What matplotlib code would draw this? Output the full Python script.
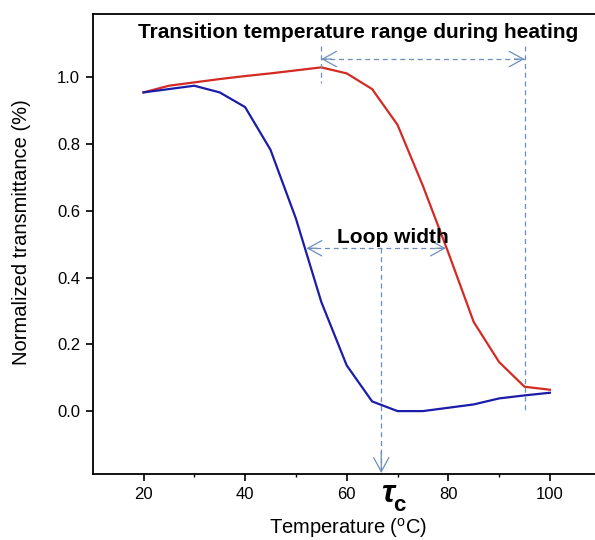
import matplotlib
matplotlib.use('Agg')
import matplotlib.pyplot as plt
from matplotlib.patches import FancyArrowPatch

plt.rcParams['font.family'] = ['Liberation Sans', 'DejaVu Sans']
plt.rcParams['mathtext.fontset'] = 'custom'
plt.rcParams['mathtext.rm'] = 'Liberation Sans'

temp = [20, 25, 30, 35, 40, 45, 50, 55, 60, 65, 70, 75, 80, 85, 90, 95, 100]
heating = [0.955, 0.975, 0.985, 0.995, 1.004, 1.012, 1.021, 1.030, 1.012,
           0.965, 0.858, 0.675, 0.475, 0.267, 0.147, 0.073, 0.064]
cooling = [0.955, 0.965, 0.975, 0.955, 0.911, 0.783, 0.577, 0.327, 0.137,
           0.029, 0.0, 0.0, 0.01, 0.02, 0.038, 0.047, 0.055]

# annotation positions (data units)
heat_lo, heat_hi, heat_y = 55, 95, 1.055
loop_lo, loop_hi, loop_y = 52.1, 79.5, 0.488
tc = 66.8

dash_col = '#6d8fbb'

fig = plt.figure(figsize=(5.95, 5.4), dpi=100)
ax = fig.add_axes([0.1558, 0.1213, 0.8538, 0.8528])

ax.plot(temp, heating, color='#d42a24', lw=1.6)
ax.plot(temp, cooling, color='#1c1caa', lw=1.6)

ax.set_xlim(10, 110)
ax.set_ylim(-0.19, 1.19)
ax.set_xticks([20, 40, 60, 80, 100])
ax.set_xticks([30, 50, 70, 90], minor=True)
ax.set_yticks([0.0, 0.2, 0.4, 0.6, 0.8, 1.0])
ax.set_yticklabels(['0.0', '0.2', '0.4', '0.6', '0.8', '1.0'])
ax.tick_params(which='major', direction='out', length=5, width=1.2,
               labelsize=12, pad=4)
ax.tick_params(which='minor', direction='out', length=2.5, width=1.0)
for s in ['left', 'bottom', 'top']:
    ax.spines[s].set_linewidth(1.3)
ax.spines['right'].set_visible(False)

ax.set_xlabel(r'Temperature ($^{\rm o}$C)', fontsize=14.5)
ax.set_ylabel('Normalized transmittance (%)', fontsize=14.5)
ax.xaxis.set_label_coords(0.5026, -0.09)
ax.yaxis.set_label_coords(-0.121, 0.5255)

dash = dict(color=dash_col, lw=0.9, ls=(0, (4, 3)))

# heating range
ax.plot([heat_lo, heat_hi], [heat_y, heat_y], **dash)
ax.plot([heat_lo, heat_lo], [1.095, 0.984], **dash)
ax.plot([heat_hi, heat_hi], [1.095, 0.0], **dash)

# loop width and Tc
ax.plot([loop_lo, loop_hi], [loop_y, loop_y], **dash)
ax.plot([tc, tc], [loop_y, -0.185], **dash)


def head(tip, back):
    ax.add_patch(FancyArrowPatch(back, tip, arrowstyle='->,head_length=1.0,head_width=0.55',
                                 mutation_scale=10, color=dash_col, lw=0.9,
                                 shrinkA=0, shrinkB=0, clip_on=False))


head((heat_lo, heat_y), (heat_lo + 2, heat_y))
head((heat_hi, heat_y), (heat_hi - 2, heat_y))
head((loop_lo, loop_y), (loop_lo + 2, loop_y))
head((loop_hi, loop_y), (loop_hi - 2, loop_y))
head((tc, -0.185), (tc, -0.12))

ax.text(62.2, 1.134, 'Transition temperature range during heating',
        fontsize=15, fontweight='bold', ha='center', va='center')
ax.text(69.15, 0.519, 'Loop width', fontsize=15, fontweight='bold',
        ha='center', va='center')

ax.text(68.0, -0.272, 'τ', fontsize=23, fontweight='bold', fontstyle='italic',
        ha='center', va='baseline', clip_on=False)
ax.text(70.4, -0.298, 'c', fontsize=16, fontweight='bold',
        ha='center', va='baseline', clip_on=False)

fig.savefig('out.png', dpi=100)
